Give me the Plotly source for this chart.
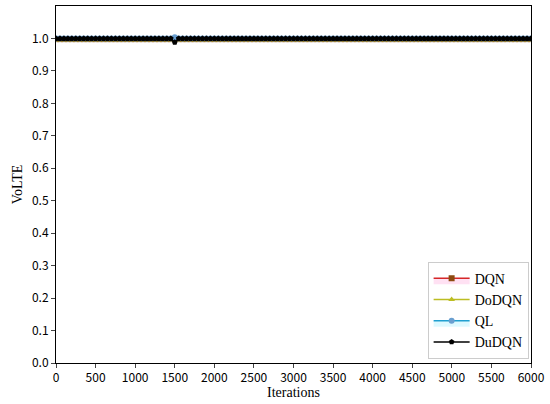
import plotly.graph_objects as go

# iterations sampled every 50 steps
iterations = list(range(0, 6001, 50))

dqn = [
    0.998, 0.998, 0.998, 0.998, 0.998, 0.998, 0.998, 0.998, 0.998, 0.998, 0.998, 0.998, 0.998, 0.998, 0.998, 0.998, 0.998, 0.998, 0.998, 0.998,
    0.998, 0.998, 0.998, 0.998, 0.998, 0.998, 0.998, 0.998, 0.998, 0.998, 0.998, 0.998, 0.998, 0.998, 0.998, 0.998, 0.998, 0.998, 0.998, 0.998,
    0.998, 0.998, 0.998, 0.998, 0.998, 0.998, 0.998, 0.998, 0.998, 0.998, 0.998, 0.998, 0.998, 0.998, 0.998, 0.998, 0.998, 0.998, 0.998, 0.998,
    0.998, 0.998, 0.998, 0.998, 0.998, 0.998, 0.998, 0.998, 0.998, 0.998, 0.998, 0.998, 0.998, 0.998, 0.998, 0.998, 0.998, 0.998, 0.998, 0.998,
    0.998, 0.998, 0.998, 0.998, 0.998, 0.998, 0.998, 0.998, 0.998, 0.998, 0.998, 0.998, 0.998, 0.998, 0.998, 0.998, 0.998, 0.998, 0.998, 0.998,
    0.998, 0.998, 0.998, 0.998, 0.998, 0.998, 0.998, 0.998, 0.998, 0.998, 0.998, 0.998, 0.998, 0.998, 0.998, 0.998, 0.998, 0.998, 0.998, 0.998,
    0.998,
]
dqn_low = [
    0.994, 0.994, 0.994, 0.994, 0.994, 0.994, 0.994, 0.994, 0.994, 0.994, 0.994, 0.994, 0.994, 0.994, 0.994, 0.994, 0.994, 0.994, 0.994, 0.994,
    0.994, 0.994, 0.994, 0.994, 0.994, 0.994, 0.994, 0.994, 0.994, 0.994, 0.994, 0.994, 0.994, 0.994, 0.994, 0.994, 0.994, 0.994, 0.994, 0.994,
    0.994, 0.994, 0.994, 0.994, 0.994, 0.994, 0.994, 0.994, 0.994, 0.994, 0.994, 0.994, 0.994, 0.994, 0.994, 0.994, 0.994, 0.994, 0.994, 0.994,
    0.994, 0.994, 0.994, 0.994, 0.994, 0.994, 0.994, 0.994, 0.994, 0.994, 0.994, 0.994, 0.994, 0.994, 0.994, 0.994, 0.994, 0.994, 0.994, 0.994,
    0.994, 0.994, 0.994, 0.994, 0.994, 0.994, 0.994, 0.994, 0.994, 0.994, 0.994, 0.994, 0.994, 0.994, 0.994, 0.994, 0.994, 0.994, 0.994, 0.994,
    0.994, 0.994, 0.994, 0.994, 0.994, 0.994, 0.994, 0.994, 0.994, 0.994, 0.994, 0.994, 0.994, 0.994, 0.994, 0.994, 0.994, 0.994, 0.994, 0.994,
    0.994,
]
dodqn = [
    0.996, 0.996, 0.996, 0.996, 0.996, 0.996, 0.996, 0.996, 0.996, 0.996, 0.996, 0.996, 0.996, 0.996, 0.996, 0.996, 0.996, 0.996, 0.996, 0.996,
    0.996, 0.996, 0.996, 0.996, 0.996, 0.996, 0.996, 0.996, 0.996, 0.996, 0.996, 0.996, 0.996, 0.996, 0.996, 0.996, 0.996, 0.996, 0.996, 0.996,
    0.996, 0.996, 0.996, 0.996, 0.996, 0.996, 0.996, 0.996, 0.996, 0.996, 0.996, 0.996, 0.996, 0.996, 0.996, 0.996, 0.996, 0.996, 0.996, 0.996,
    0.996, 0.996, 0.996, 0.996, 0.996, 0.996, 0.996, 0.996, 0.996, 0.996, 0.996, 0.996, 0.996, 0.996, 0.996, 0.996, 0.996, 0.996, 0.996, 0.996,
    0.996, 0.996, 0.996, 0.996, 0.996, 0.996, 0.996, 0.996, 0.996, 0.996, 0.996, 0.996, 0.996, 0.996, 0.996, 0.996, 0.996, 0.996, 0.996, 0.996,
    0.996, 0.996, 0.996, 0.996, 0.996, 0.996, 0.996, 0.996, 0.996, 0.996, 0.996, 0.996, 0.996, 0.996, 0.996, 0.996, 0.996, 0.996, 0.996, 0.996,
    0.996,
]
ql = [
    1.0, 1.0, 1.0, 1.0, 1.0, 1.0, 1.0, 1.0, 1.0, 1.0, 1.0, 1.0, 1.0, 1.0, 1.0, 1.0, 1.0, 1.0, 1.0, 1.0,
    1.0, 1.0, 1.0, 1.0, 1.0, 1.0, 1.0, 1.0, 1.0, 1.0, 1.004, 1.0, 1.0, 1.0, 1.0, 1.0, 1.0, 1.0, 1.0, 1.0,
    1.0, 1.0, 1.0, 1.0, 1.0, 1.0, 1.0, 1.0, 1.0, 1.0, 1.0, 1.0, 1.0, 1.0, 1.0, 1.0, 1.0, 1.0, 1.0, 1.0,
    1.0, 1.0, 1.0, 1.0, 1.0, 1.0, 1.0, 1.0, 1.0, 1.0, 1.0, 1.0, 1.0, 1.0, 1.0, 1.0, 1.0, 1.0, 1.0, 1.0,
    1.0, 1.0, 1.0, 1.0, 1.0, 1.0, 1.0, 1.0, 1.0, 1.0, 1.0, 1.0, 1.0, 1.0, 1.0, 1.0, 1.0, 1.0, 1.0, 1.0,
    1.0, 1.0, 1.0, 1.0, 1.0, 1.0, 1.0, 1.0, 1.0, 1.0, 1.0, 1.0, 1.0, 1.0, 1.0, 1.0, 1.0, 1.0, 1.0, 1.0,
    1.0,
]
ql_low = [
    0.997, 0.997, 0.997, 0.997, 0.997, 0.997, 0.997, 0.997, 0.997, 0.997, 0.997, 0.997, 0.997, 0.997, 0.997, 0.997, 0.997, 0.997, 0.997, 0.997,
    0.997, 0.997, 0.997, 0.997, 0.997, 0.997, 0.997, 0.997, 0.997, 0.997, 0.997, 0.997, 0.997, 0.997, 0.997, 0.997, 0.997, 0.997, 0.997, 0.997,
    0.997, 0.997, 0.997, 0.997, 0.997, 0.997, 0.997, 0.997, 0.997, 0.997, 0.997, 0.997, 0.997, 0.997, 0.997, 0.997, 0.997, 0.997, 0.997, 0.997,
    0.997, 0.997, 0.997, 0.997, 0.997, 0.997, 0.997, 0.997, 0.997, 0.997, 0.997, 0.997, 0.997, 0.997, 0.997, 0.997, 0.997, 0.997, 0.997, 0.997,
    0.997, 0.997, 0.997, 0.997, 0.997, 0.997, 0.997, 0.997, 0.997, 0.997, 0.997, 0.997, 0.997, 0.997, 0.997, 0.997, 0.997, 0.997, 0.997, 0.997,
    0.997, 0.997, 0.997, 0.997, 0.997, 0.997, 0.997, 0.997, 0.997, 0.997, 0.997, 0.997, 0.997, 0.997, 0.997, 0.997, 0.997, 0.997, 0.997, 0.997,
    0.997,
]
dudqn = [
    1.0, 1.0, 1.0, 1.0, 1.0, 1.0, 1.0, 1.0, 1.0, 1.0, 1.0, 1.0, 1.0, 1.0, 1.0, 1.0, 1.0, 1.0, 1.0, 1.0,
    1.0, 1.0, 1.0, 1.0, 1.0, 1.0, 1.0, 1.0, 1.0, 1.0, 0.988, 1.0, 1.0, 1.0, 1.0, 1.0, 1.0, 1.0, 1.0, 1.0,
    1.0, 1.0, 1.0, 1.0, 1.0, 1.0, 1.0, 1.0, 1.0, 1.0, 1.0, 1.0, 1.0, 1.0, 1.0, 1.0, 1.0, 1.0, 1.0, 1.0,
    1.0, 1.0, 1.0, 1.0, 1.0, 1.0, 1.0, 1.0, 1.0, 1.0, 1.0, 1.0, 1.0, 1.0, 1.0, 1.0, 1.0, 1.0, 1.0, 1.0,
    1.0, 1.0, 1.0, 1.0, 1.0, 1.0, 1.0, 1.0, 1.0, 1.0, 1.0, 1.0, 1.0, 1.0, 1.0, 1.0, 1.0, 1.0, 1.0, 1.0,
    1.0, 1.0, 1.0, 1.0, 1.0, 1.0, 1.0, 1.0, 1.0, 1.0, 1.0, 1.0, 1.0, 1.0, 1.0, 1.0, 1.0, 1.0, 1.0, 1.0,
    1.0,
]

x_ticks = list(range(0, 6001, 500))
y_ticks = [0.0, 0.1, 0.2, 0.3, 0.4, 0.5, 0.6, 0.7, 0.8, 0.9, 1.0]

serif = "Liberation Serif, Times New Roman, serif"
sans = "Noto Sans CJK SC, DejaVu Sans, sans-serif"

fig = go.Figure()

# shaded band under DQN
fig.add_trace(go.Scatter(x=iterations, y=dqn_low, mode="lines", line=dict(width=0),
                         showlegend=False, hoverinfo="skip"))
fig.add_trace(go.Scatter(
    x=iterations, y=dqn, name="DQN", mode="lines+markers",
    fill="tonexty", fillcolor="rgba(255,170,220,0.35)",
    line=dict(color="#d62728", width=1.5),
    marker=dict(symbol="square", size=6, color="#8c4a10"),
))
fig.add_trace(go.Scatter(
    x=iterations, y=dodqn, name="DoDQN", mode="lines+markers",
    line=dict(color="#bcbd22", width=1.5),
    marker=dict(symbol="triangle-up", size=6, color="#bcbd22"),
))
# shaded band under QL
fig.add_trace(go.Scatter(x=iterations, y=ql_low, mode="lines", line=dict(width=0),
                         showlegend=False, hoverinfo="skip"))
fig.add_trace(go.Scatter(
    x=iterations, y=ql, name="QL", mode="lines+markers",
    fill="tonexty", fillcolor="rgba(170,240,255,0.4)",
    line=dict(color="#1f9fd0", width=1.5),
    marker=dict(symbol="circle", size=6, color="#6a9fd0"),
))
fig.add_trace(go.Scatter(
    x=iterations, y=dudqn, name="DuDQN", mode="lines+markers",
    line=dict(color="black", width=1.5),
    marker=dict(symbol="pentagon", size=6, color="black"),
))

fig.update_layout(
    width=550, height=404,
    margin=dict(l=56, r=16, t=5, b=41),
    plot_bgcolor="white", paper_bgcolor="white",
    legend=dict(
        x=0.995, y=0.012, xanchor="right", yanchor="bottom",
        traceorder="normal",
        bgcolor="rgba(255,255,255,0.8)", bordercolor="#cccccc", borderwidth=1,
        font=dict(family=serif, size=14, color="black"),
        itemwidth=36, tracegroupgap=0,
    ),
    font=dict(family=sans, color="black"),
)
fig.update_xaxes(
    range=[0, 6000], tickvals=x_ticks, ticks="outside", ticklen=4,
    showline=True, linecolor="black", linewidth=1, mirror=True, showgrid=False, zeroline=False,
    tickfont=dict(family=sans, size=12, color="black"),
    title=dict(text="Iterations", font=dict(family=serif, size=14, color="black"), standoff=2),
)
fig.update_yaxes(
    range=[0, 1.1], tickvals=y_ticks, tickformat=".1f", ticks="outside", ticklen=4,
    showline=True, linecolor="black", linewidth=1, mirror=True, showgrid=False, zeroline=False,
    tickfont=dict(family=sans, size=12, color="black"),
    title=dict(text="VoLTE", font=dict(family=serif, size=14, color="black"), standoff=6),
)

fig.write_html("out.html", config={"displayModeBar": False},
               post_script="document.body.style.margin='0';")
